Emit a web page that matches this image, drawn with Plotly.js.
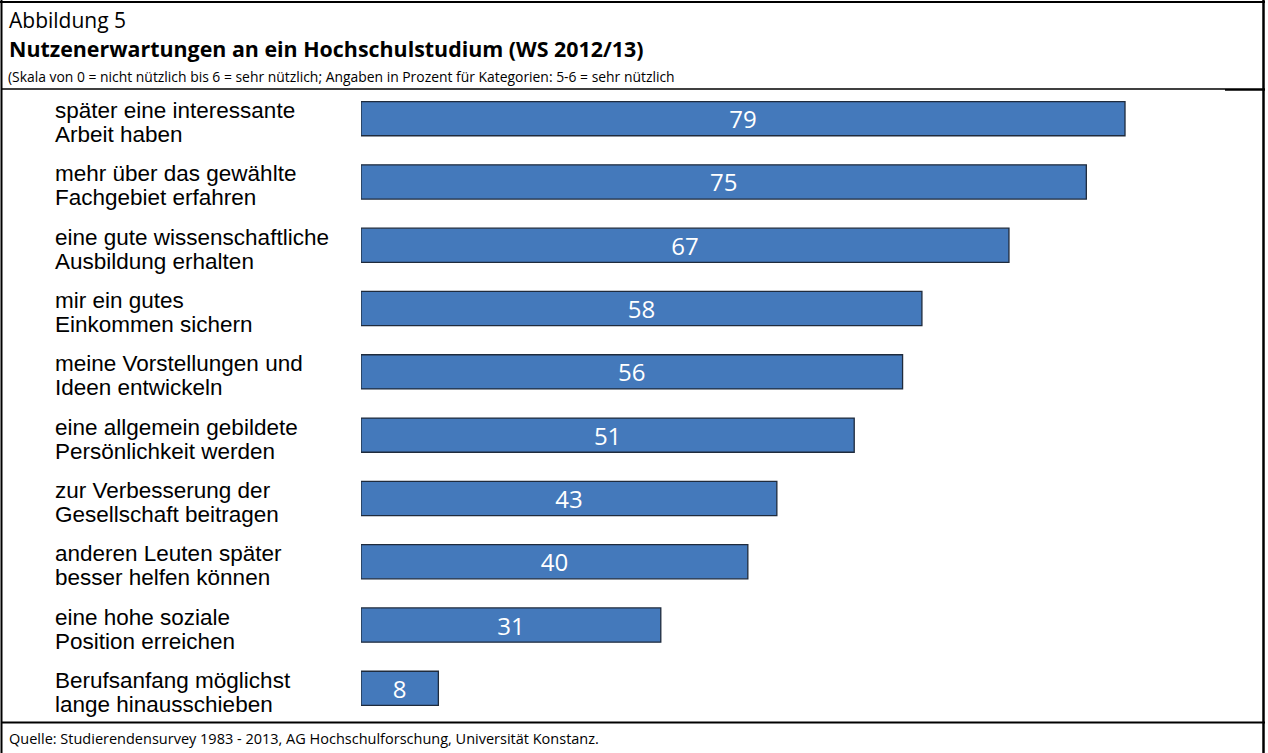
<!DOCTYPE html>
<html>
<head>
<meta charset="utf-8">
<script src="https://cdn.plot.ly/plotly-3.0.1.min.js"></script>
<style>
html,body{margin:0;padding:0;background:#fff;}
#chart{width:1268px;height:753px;}
</style>
</head>
<body>
<div id="chart"></div>
<script>
const categories = [
  "später eine interessante<br>Arbeit haben",
  "mehr über das gewählte<br>Fachgebiet erfahren",
  "eine gute wissenschaftliche<br>Ausbildung erhalten",
  "mir ein gutes<br>Einkommen sichern",
  "meine Vorstellungen und<br>Ideen entwickeln",
  "eine allgemein gebildete<br>Persönlichkeit werden",
  "zur Verbesserung der<br>Gesellschaft beitragen",
  "anderen Leuten später<br>besser helfen können",
  "eine hohe soziale<br>Position erreichen",
  "Berufsanfang möglichst<br>lange hinausschieben"
];
const values = [79, 75, 67, 58, 56, 51, 43, 40, 31, 8];
const headerLabel = "Abbildung 5";
const titleText = "Nutzenerwartungen an ein Hochschulstudium (WS 2012/13)";
const subtitleText = "(Skala von 0 = nicht nützlich bis 6 = sehr nützlich; Angaben in Prozent für Kategorien: 5-6 = sehr nützlich";
const sourceText = "Quelle: Studierendensurvey 1983 - 2013, AG Hochschulforschung, Universität Konstanz.";

const W = 1268, H = 753;
const M = {l: 361, r: 43, t: 87, b: 33};
const PW = W - M.l - M.r, PH = H - M.t - M.b;
const px = x => (x - M.l) / PW;
const py = y => (H - M.b - y) / PH;
const hdrFont = "Open Sans, sans-serif";

const trace = {
  type: "bar",
  orientation: "h",
  y: categories,
  x: values,
  text: values.map(String),
  textposition: "inside",
  insidetextanchor: "middle",
  textangle: 0,
  constraintext: "none",
  textfont: {family: "Open Sans, sans-serif", size: 24, color: "#ffffff"},
  marker: {color: "#4479BB", line: {color: "#1F2B3C", width: 1.3}},
  hoverinfo: "none"
};

const annotations = [];
categories.forEach(c => {
  const lines = c.split("<br>");
  lines.forEach((t, i) => {
    annotations.push({
      xref: "paper", yref: "y", x: px(53), y: c,
      xanchor: "left", yanchor: "middle", align: "left",
      text: t, showarrow: false, yshift: i === 0 ? 8 : -16,
      font: {family: "Liberation Sans, Arial, sans-serif", size: 22.5, color: "#000"}
    });
  });
});
annotations.push(
  {xref: "paper", yref: "paper", x: px(7), y: py(20), xanchor: "left", yanchor: "middle",
   text: headerLabel, showarrow: false, font: {family: hdrFont, size: 21, color: "#000"}},
  {xref: "paper", yref: "paper", x: px(7), y: py(48.5), xanchor: "left", yanchor: "middle",
   text: "<b>" + titleText + "</b>", showarrow: false, font: {family: hdrFont, size: 21.4, color: "#000"}},
  {xref: "paper", yref: "paper", x: px(6), y: py(76.5), xanchor: "left", yanchor: "middle",
   text: subtitleText, showarrow: false, font: {family: hdrFont, size: 13.9, color: "#000"}},
  {xref: "paper", yref: "paper", x: px(7), y: py(739), xanchor: "left", yanchor: "middle",
   text: sourceText, showarrow: false, font: {family: hdrFont, size: 14.5, color: "#000"}}
);

const ln = (x0, y0, x1, y1, w) => ({type: "line", xref: "paper", yref: "paper",
  x0: px(x0), y0: py(y0), x1: px(x1), y1: py(y1), line: {color: "#000", width: w}});
const shapes = [
  ln(1.5, 0, 1.5, 753, 2),
  ln(0, 2, 1265, 2, 2),
  ln(1263.5, 0, 1263.5, 753, 2.5),
  ln(1, 89, 1225, 89, 1.5),
  ln(1225, 89.5, 1265, 89.5, 2.5),
  ln(1, 722.5, 1265, 722.5, 2)
];

const layout = {
  width: W, height: H,
  margin: M,
  paper_bgcolor: "#fff", plot_bgcolor: "#fff",
  showlegend: false,
  bargap: 0.46,
  xaxis: {range: [0, PW / 9.671], visible: false, fixedrange: true},
  yaxis: {type: "category", autorange: "reversed", showticklabels: false,
          showgrid: false, zeroline: false, showline: false, ticks: "", fixedrange: true},
  annotations: annotations,
  shapes: shapes
};

Plotly.newPlot("chart", [trace], layout, {displayModeBar: false, staticPlot: true});
</script>
</body>
</html>
